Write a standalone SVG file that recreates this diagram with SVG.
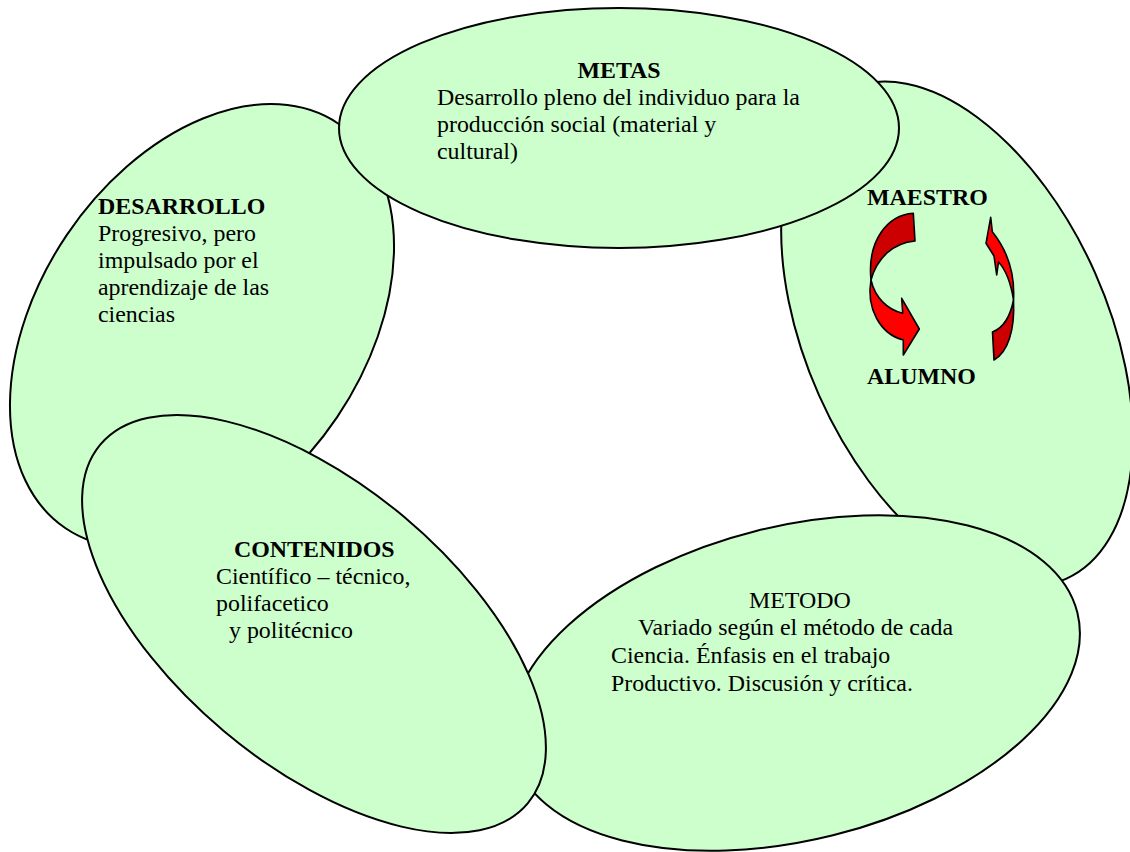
<svg xmlns="http://www.w3.org/2000/svg" width="1130" height="852" viewBox="0 0 1130 852">
<style>
.bub{fill:#CCFFCC;stroke:#000;stroke-width:2}
.t{font-family:"Liberation Serif","Times New Roman",serif;font-size:23.9px;fill:#000}
.b{font-weight:bold}
.dk{fill:#CC0000;stroke:#000;stroke-width:1.6;stroke-linejoin:round}
.lt{fill:#FF0000;stroke:#000;stroke-width:1.6;stroke-linejoin:round}
</style>
<rect width="1130" height="852" fill="#fff"/>
<g id="desarrollo">
<ellipse class="bub" cx="202" cy="326" rx="244" ry="163" transform="rotate(-56 202 326)"/>
<text class="t b" x="98" y="214">DESARROLLO</text>
<text class="t" x="98" y="241">Progresivo, pero</text>
<text class="t" x="98" y="268">impulsado por el</text>
<text class="t" x="98" y="295">aprendizaje de las</text>
<text class="t" x="98" y="322">ciencias</text>
</g>
<g id="maestro-alumno">
<ellipse class="bub" cx="957" cy="334" rx="268" ry="151" transform="rotate(66 957 334)"/>
<text class="t b" x="867" y="205">MAESTRO</text>
<text class="t b" x="867" y="384">ALUMNO</text>
</g>
<g id="connectors">
<path class="dk" d="M913.3,213.3 C888,215 867,240 871,280 C877,258 893,243 915,241 Z"/>
<path class="lt" d="M871,280 C866,308 880,334 903.3,340 L903.3,355 L919.3,329 L901.7,298.3 L902.7,313.3 C888,310 875,298 871,280 Z"/>
<path class="lt" d="M990.7,217.3 L986,243.3 L994,256 L996.7,275 L998.5,262 C1006,270 1011,284 1013.5,300 C1015,274 1007,250 992.3,231.7 Z"/>
<path class="dk" d="M1013.5,300 C1015,330 1008,352 994,360 L992.5,332 C1003,328 1010,318 1013.5,300 Z"/>
</g>
<g id="metodo">
<ellipse class="bub" cx="795" cy="683" rx="291" ry="157" transform="rotate(-14 795 683)"/>
<text class="t" x="749" y="608">METODO</text>
<text class="t" x="638" y="635">Variado según el método de cada</text>
<text class="t" x="611" y="663">Ciencia. Énfasis en el trabajo</text>
<text class="t" x="611" y="691">Productivo. Discusión y crítica.</text>
</g>
<g id="contenidos">
<ellipse class="bub" cx="314" cy="624" rx="279" ry="140" transform="rotate(40 314 624)"/>
<text class="t b" x="234" y="557">CONTENIDOS</text>
<text class="t" x="216" y="584">Científico – técnico,</text>
<text class="t" x="216" y="611">polifacetico</text>
<text class="t" x="229" y="638">y politécnico</text>
</g>
<g id="metas">
<ellipse class="bub" cx="619" cy="128" rx="280" ry="120"/>
<text class="t b" x="619" y="78" text-anchor="middle">METAS</text>
<text class="t" x="437" y="105">Desarrollo pleno del individuo para la</text>
<text class="t" x="437" y="132">producción social (material y</text>
<text class="t" x="437" y="159">cultural)</text>
</g>
</svg>
